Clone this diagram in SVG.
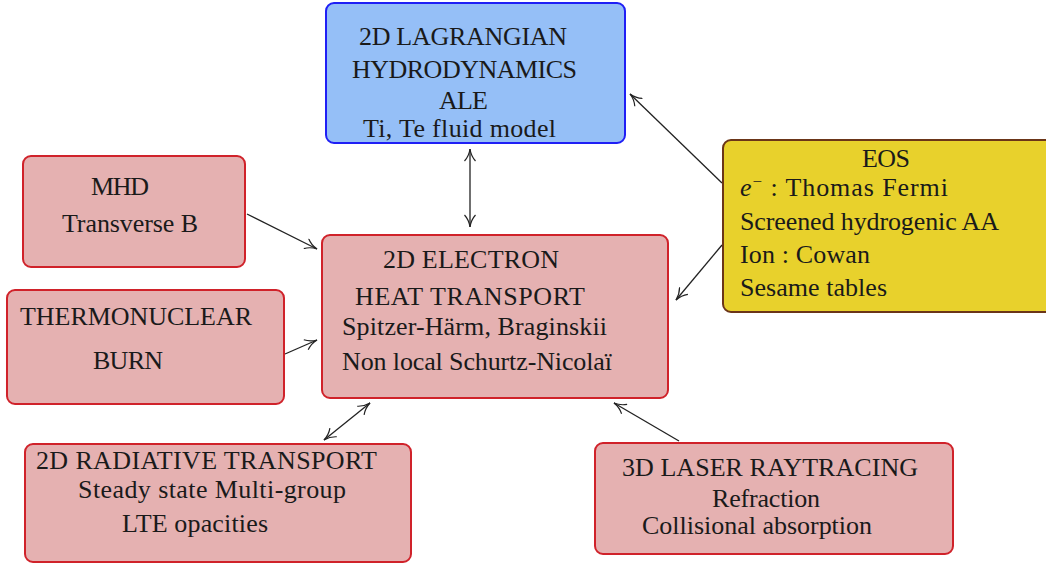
<svg xmlns="http://www.w3.org/2000/svg" width="1046" height="567" viewBox="0 0 1046 567">
<style>
text{font-family:"Liberation Serif","DejaVu Serif",serif;font-size:26px;fill:#1a1a1a}
.pink{fill:#e5b1b1;stroke:#d0222a;stroke-width:2}
.blue{fill:#95bff7;stroke:#1f1ff5;stroke-width:2}
.yellow{fill:#e8d12c;stroke:#6b3518;stroke-width:2}
.c{stroke:#222;stroke-width:1.3;fill:none}
</style>
<defs>
<marker id="ah" viewBox="0 0 14 12" refX="13" refY="6" markerWidth="14" markerHeight="12" markerUnits="userSpaceOnUse" orient="auto-start-reverse">
<path d="M1,0.5 Q6,5 13,6 Q6,7 1,11.5" fill="none" stroke="#222" stroke-width="1.2"/>
</marker>
</defs>
<rect width="1046" height="567" fill="#fff"/>
<g id="connectors">
<line class="c" x1="470" y1="149" x2="470" y2="227" marker-start="url(#ah)" marker-end="url(#ah)"/>
<line class="c" x1="722" y1="183" x2="630" y2="94" marker-end="url(#ah)"/>
<line class="c" x1="722" y1="245" x2="676" y2="300" marker-end="url(#ah)"/>
<line class="c" x1="247" y1="214" x2="317" y2="249" marker-end="url(#ah)"/>
<line class="c" x1="285" y1="354" x2="317" y2="340" marker-end="url(#ah)"/>
<line class="c" x1="324" y1="440" x2="370" y2="403" marker-start="url(#ah)" marker-end="url(#ah)"/>
<line class="c" x1="679" y1="441" x2="614" y2="403" marker-end="url(#ah)"/>
</g>
<g id="hydro">
<rect class="blue" x="326" y="3" width="299" height="140" rx="8"/>
<text x="359" y="45" textLength="208">2D LAGRANGIAN</text>
<text x="352" y="78" textLength="225">HYDRODYNAMICS</text>
<text x="439" y="109" textLength="49">ALE</text>
<text x="363" y="137" textLength="193">Ti, Te fluid model</text>
</g>
<g id="mhd">
<rect class="pink" x="23" y="156" width="222" height="111" rx="8"/>
<text x="91" y="195" textLength="58">MHD</text>
<text x="62" y="232" textLength="136">Transverse B</text>
</g>
<g id="thermo">
<rect class="pink" x="7" y="290" width="277" height="114" rx="8"/>
<text x="20" y="325" textLength="232">THERMONUCLEAR</text>
<text x="93" y="369" textLength="70">BURN</text>
</g>
<g id="electron">
<rect class="pink" x="322" y="235" width="346" height="163" rx="8"/>
<text x="383" y="268" textLength="176">2D ELECTRON</text>
<text x="355" y="305" textLength="230">HEAT TRANSPORT</text>
<text x="342" y="335" textLength="265">Spitzer-Härm, Braginskii</text>
<text x="342" y="370" textLength="270">Non local Schurtz-Nicolaï</text>
</g>
<g id="eos">
<rect class="yellow" x="723" y="140" width="335" height="172" rx="8"/>
<text x="862" y="167" textLength="48">EOS</text>
<text x="740" y="196" textLength="208"><tspan font-style="italic">e</tspan><tspan dy="-9" font-size="17">−</tspan><tspan dy="9"> : Thomas Fermi</tspan></text>
<text x="740" y="230" textLength="259">Screened hydrogenic AA</text>
<text x="740" y="263" textLength="130">Ion : Cowan</text>
<text x="740" y="296" textLength="147">Sesame tables</text>
</g>
<g id="radiative">
<rect class="pink" x="25" y="444" width="386" height="118" rx="8"/>
<text x="36" y="469" textLength="341">2D RADIATIVE TRANSPORT</text>
<text x="78" y="498" textLength="268">Steady state Multi-group</text>
<text x="122" y="532" textLength="146">LTE opacities</text>
</g>
<g id="laser">
<rect class="pink" x="595" y="443" width="358" height="111" rx="8"/>
<text x="622" y="476" textLength="296">3D LASER RAYTRACING</text>
<text x="712" y="507" textLength="108">Refraction</text>
<text x="642" y="534" textLength="230">Collisional absorption</text>
</g>
</svg>
